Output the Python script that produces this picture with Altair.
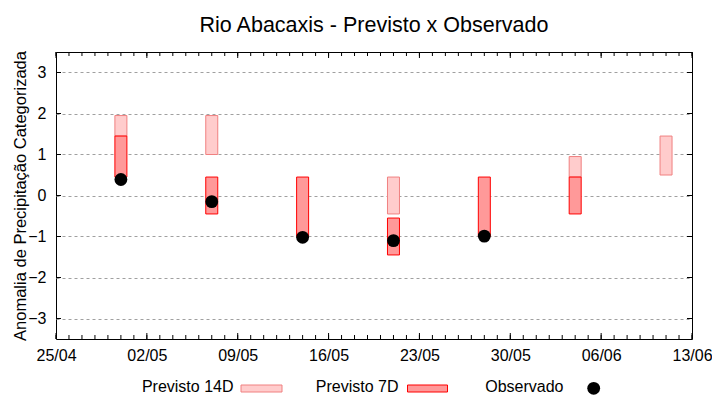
import altair as alt
import pandas as pd

FONT = "Liberation Sans"

# ---- data ----
dates_14d = ["2021-04-30", "2021-05-07", "2021-05-21", "2021-06-04", "2021-06-11"]
lo_14d = [1.45, 1.0, -0.45, 0.45, 0.5]
hi_14d = [1.95, 1.95, 0.45, 0.95, 1.45]

dates_7d = ["2021-04-30", "2021-05-07", "2021-05-14", "2021-05-21", "2021-05-28", "2021-06-04"]
lo_7d = [0.45, -0.45, -1.0, -1.45, -1.0, -0.45]
hi_7d = [1.45, 0.45, 0.45, -0.55, 0.45, 0.45]

dates_obs = ["2021-04-30", "2021-05-07", "2021-05-14", "2021-05-21", "2021-05-28"]
obs = [0.39, -0.15, -1.02, -1.10, -0.99]

x_tick_dates = ["2021-04-25", "2021-05-02", "2021-05-09", "2021-05-16",
                "2021-05-23", "2021-05-30", "2021-06-06", "2021-06-13"]
y_ticks = [-3, -2, -1, 0, 1, 2, 3]
legend_labels = ["Previsto 14D", "Previsto 7D", "Observado"]
title_text = "Rio Abacaxis - Previsto x Observado"
y_title = "Anomalia de Precipitação Categorizada"

# ---- tables ----
df14 = pd.DataFrame({"date": pd.to_datetime(dates_14d), "lo": lo_14d, "hi": hi_14d})
df7 = pd.DataFrame({"date": pd.to_datetime(dates_7d), "lo": lo_7d, "hi": hi_7d})
dfo = pd.DataFrame({"date": pd.to_datetime(dates_obs), "lo": obs})
dfmaj = pd.DataFrame({"date": pd.to_datetime(x_tick_dates)})
dfmin = pd.DataFrame({"date": pd.date_range(x_tick_dates[0], x_tick_dates[-1], freq="D")})
dfy = pd.DataFrame({"lo": y_ticks})
one = pd.DataFrame({"k": [0]})


def dt(s):
    d = pd.Timestamp(s)
    return alt.DateTime(year=d.year, month=d.month, date=d.day)


XDOM = [dt(x_tick_dates[0]), dt(x_tick_dates[-1])]
W, H = 636, 287

x_axis = alt.Axis(values=[dt(s) for s in x_tick_dates], format="%d/%m", title=None,
                  ticks=False, domain=False, grid=False, labelPadding=8,
                  labelFontSize=16, labelFont=FONT, labelColor="black", labelFlush=False)
y_axis = alt.Axis(values=y_ticks, title=y_title, ticks=False, domain=False,
                  grid=True, gridColor="#a0a0a0", gridDash=[3, 3], gridWidth=1,
                  labelPadding=10, labelFontSize=16, labelFont=FONT, labelColor="black",
                  titleFontSize=16.5, titleFont=FONT, titleFontWeight="normal",
                  titleColor="black", titlePadding=-1)


def xenc():
    return alt.X("date:T", scale=alt.Scale(domain=XDOM, padding=0, nice=False), axis=x_axis)


def yenc():
    return alt.Y("lo:Q", scale=alt.Scale(domain=[-3.5, 3.5], nice=False, zero=False, padding=0),
                 axis=y_axis)


bars14 = alt.Chart(df14).mark_bar(size=12, fill="#FFCCCC", stroke="#F08080", strokeWidth=1).encode(
    x=xenc(), y=yenc(), y2="hi:Q")
bars7 = alt.Chart(df7).mark_bar(size=12, fill="#FF9999", stroke="#FF0000", strokeWidth=1).encode(
    x=xenc(), y=yenc(), y2="hi:Q")
dots = alt.Chart(dfo).mark_circle(size=165, color="black", opacity=1).encode(
    x=xenc(), y=yenc())

# inward ticks on the frame
ytl = alt.Chart(dfy).mark_rule(color="black", strokeWidth=1).encode(
    y=yenc(), x=alt.value(0), x2=alt.value(5))
ytr = alt.Chart(dfy).mark_rule(color="black", strokeWidth=1).encode(
    y=yenc(), x=alt.value(W - 5), x2=alt.value(W))
xmb = alt.Chart(dfmin).mark_rule(color="black", strokeWidth=1).encode(
    x=xenc(), y=alt.value(H), y2=alt.value(H - 4))
xmt = alt.Chart(dfmin).mark_rule(color="black", strokeWidth=1).encode(
    x=xenc(), y=alt.value(0), y2=alt.value(4))
xMb = alt.Chart(dfmaj).mark_rule(color="black", strokeWidth=1).encode(
    x=xenc(), y=alt.value(H), y2=alt.value(H - 6))
xMt = alt.Chart(dfmaj).mark_rule(color="black", strokeWidth=1).encode(
    x=xenc(), y=alt.value(0), y2=alt.value(6))


# custom legend (gnuplot style: label then symbol)
def ltext(label, xr):
    return alt.Chart(one).mark_text(align="right", baseline="alphabetic", fontSize=16,
                                    font=FONT, color="black").encode(
        x=alt.value(xr), y=alt.value(340), text=alt.value(label))


leg = [
    ltext(legend_labels[0], 177.5),
    alt.Chart(one).mark_rect(fill="#FFCCCC", stroke="#F08080", strokeWidth=1).encode(
        x=alt.value(185), x2=alt.value(226), y=alt.value(333), y2=alt.value(340)),
    ltext(legend_labels[1], 342.5),
    alt.Chart(one).mark_rect(fill="#FF9999", stroke="#FF0000", strokeWidth=1).encode(
        x=alt.value(351.5), x2=alt.value(391.5), y=alt.value(333), y2=alt.value(340)),
    ltext(legend_labels[2], 507.5),
    alt.Chart(one).mark_circle(size=165, color="black", opacity=1).encode(
        x=alt.value(537.7), y=alt.value(336.3)),
]

chart = alt.layer(bars14, bars7, dots, ytl, ytr, xmb, xmt, xMb, xMt, *leg).properties(
    width=W, height=H,
    title=alt.TitleParams(title_text, fontSize=21.5, font=FONT, fontWeight="normal",
                          color="black", offset=14, anchor="middle"),
    autosize=alt.AutoSizeParams(type="none"),
    padding={"left": 48, "top": 44, "right": 20, "bottom": 60},
    background="white",
).configure_view(stroke="black", strokeWidth=1)

chart.save("out.html", embed_options={"renderer": "svg", "actions": False})
